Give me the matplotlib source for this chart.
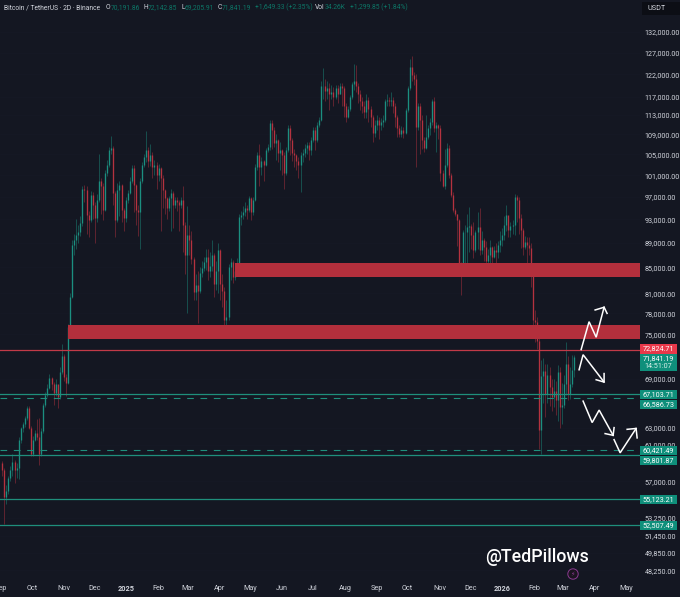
#!/usr/bin/env python3
import matplotlib
matplotlib.use("Agg")
import matplotlib.pyplot as plt
import matplotlib.dates as mdates
from matplotlib.patches import Rectangle, Circle
from matplotlib.ticker import NullLocator, FuncFormatter
import numpy as np
import pandas as pd

plt.rcParams['font.family'] = ['Roboto', 'DejaVu Sans']

BG = "#141722"
GREEN = "#1b8f80"
RED = "#b5323f"
LINE_GREEN = "#1f8f7c"
LINE_RED = "#c23a48"
ZONE_RED = "#b32f3c"
TEXT = "#d1d4dc"

# 2D candles in thousands of USDT
closes = [
    58.2,55.3,56,57.3,58.2,59.1,58.2,58.4,61.6,62.9,
    63.4,64.1,65.4,63,60,61.6,62.4,61.9,60,62.6,
    65.7,67,67.9,69.1,68.4,67.2,68.3,66.7,69.9,72,
    69.2,68.5,76,80.5,88.7,89.5,90.3,90.8,92.3,98.5,
    98.2,93.7,92.8,97.4,95.5,93.2,96.5,99.9,99,94.6,
    101.4,103,105.8,106.2,97.7,92.8,98.2,99.1,94.6,93.2,
    96.5,97.7,100,102.4,99.1,94.6,94.2,100,103,104.4,
    105.8,103.8,104.8,102.5,102.9,101,102.4,100.5,98.2,96.8,
    95,96.8,97.7,95.5,96.4,96,95.5,96.4,92,87,
    90.3,89.5,86.4,81.2,82.2,81.4,84.1,84.9,85.8,86.6,
    84.5,85.3,87,82.4,84.5,87.8,82.4,81.4,77,77.5,
    85,85.8,83.5,84.5,85.7,93.4,93.7,94.2,95,94.6,
    96.8,94.2,96.5,102.5,104.8,102.5,103.8,102.9,105.8,106.4,
    111.3,110,107.2,107.9,105.2,105.8,104.8,101.4,105.8,110.4,
    107.9,105.2,104.8,103.8,102.9,104.8,105.2,106.2,106.8,105.8,
    107.9,110,107.9,111,112,119.3,119.3,118.2,118.8,117.6,
    118,117,118.8,117.6,119.3,118.8,115,112.6,114.2,116.8,
    119.7,120.5,119.3,117.6,116,115,113.7,116.3,114.2,112.6,
    109.3,111,112,111,111.6,112,116,116.3,116,116.3,
    115,112.6,110.4,109,110,109.3,114,118.8,123.6,121.9,
    120.9,110.5,115,112,107.9,106.2,108.4,110.4,111.6,116,
    110.4,111,110.4,101.4,98.9,103,106.2,101,97.4,94.6,
    94,92.8,85.7,84.5,90.8,90.8,91.6,91.9,90.3,87.8,
    90.8,91.6,87.8,89.5,88.3,86.1,87,88.3,86.6,87.8,
    87.5,88.7,89.5,90.3,92,93.7,91.2,91.8,92,97,
    96.4,93.2,91.2,88.3,89.2,88.7,88.1,84.4,77,76.7,
    74.1,62.7,69.4,70,67.1,69.5,68,66.7,67.5,66.4,
    69.9,65.5,65.7,68.4,70.9,67.1,68.3,70.2,71.84,
]
highs = [
    59.2,58.4,56.6,57.6,58.6,60,59.3,59,61.9,63.1,
    63.7,64.4,65.6,65.6,63.2,62,62.7,64,64.1,62.9,
    66,67.3,68.4,69.6,69.3,68.6,69,68.2,70.5,73.6,
    72.3,69.6,76.4,81,89.5,90.5,93,92,93.5,99,
    99.2,99,94.5,98,97.8,96,97.5,105,100.5,99.5,
    102,104,106.5,108.6,106.7,98,99.5,100,99.3,95,
    97,98.2,100.6,103,103,99.4,95.5,100.5,103.5,105,
    109.6,106.5,107,105.5,104,103.5,103.2,102.6,101,98.5,
    97,97.2,98.5,98,97,97,96.5,97,99,92.5,
    95.4,92,91,86.6,84,84.5,85,86,86.7,88,
    88,87.5,89.5,87.4,86,89,88,84,82,80,
    85.5,86.5,86.2,85.5,86.5,94,94.5,95.3,96,95.6,
    97.2,97,97,103.2,105.5,107,104.5,104,106.3,107,
    112,112,110.5,109,108,107.5,106,105.5,106.5,111,
    111,108.2,106,105,104.5,105.5,106,107,107.4,107.5,
    108.4,110.6,110.5,111.6,112.6,120.5,123.3,120.8,120.5,120,
    119.5,119,119.5,119.5,120,120,119.3,115.5,115,117.3,
    120.2,124.3,124,120,118.5,117,116,117.5,116.8,115,
    113,112,113,112.6,112.5,113,116.5,117.5,117,118,
    117,115.5,113,111,110.8,110.5,114.5,119.4,125.5,126.2,
    122.5,122,115.5,115.5,113,108.5,113,111,112.5,116.5,
    117,111.6,111.2,111,102,106,107.3,106.8,101.5,97.8,
    95,94,93,85.8,91.2,92,94,95.2,92.2,92.5,
    91.2,94.2,95,91,89.8,89.3,88,89.5,88.5,88.5,
    89,89.3,91,91.5,93.5,95.5,93.5,92.5,92.8,97.5,
    97.3,97,94,91.5,90.2,90,90,89,85,78.5,
    77.5,74.5,71.5,71.8,71,71,70.5,69,69,68.8,
    70.8,70.5,68.5,69.5,74,72,70.5,72.1,72.14,
]
lows = [
    57.6,52.6,54.6,55.6,57,57.6,56.8,57.3,57.2,61.2,
    62.5,63.1,63.9,62.8,59.7,59.7,61.4,61.6,58.8,59.8,
    62.4,65.5,66.7,67.7,67.6,65.7,66.8,65.4,66.5,69.7,
    68.8,66.8,68.3,75.8,80.3,87,88,89,90.2,91.8,
    96,90.5,90,92.5,93,89,92.5,96,94,92.8,
    94.4,100.8,102.5,105,95.5,90,92.5,93.5,92.5,91,
    92.5,95.8,97.5,99.5,94.3,92,90.2,88,99.5,102.5,
    103.5,102.5,102.8,100.5,101,98.5,100,91,95,94,
    93,94.5,91,91.5,95,94.5,91,95,87.5,84,
    78,87,85.5,80,80,76.6,81,83.5,84.5,84.6,
    83,83.5,84.5,80.5,81.5,81,80,79,75.2,74.6,
    77,83,82.5,83,84.5,85.5,92,93,93.5,93,
    94.2,92.8,93.8,96.2,102,99,101,100,102.8,105.5,
    105.8,106,106.5,104,103.5,102,101,98.5,101,105.5,
    104.8,103.8,102.5,102,100.5,97.8,103.5,104.5,105,104,
    104.8,107.5,105.8,107.5,110.5,111.8,116.5,116,116.5,114,
    116.5,115,116.5,115.5,117.5,115,112.6,111.5,112.3,113.8,
    116.5,118.5,118,115.5,114,113.5,112.3,112.5,111.5,110.5,
    107.5,108.5,110,108,110,110.5,111.5,115,115,115,
    113.5,110.5,108.5,108.5,108.5,108.3,109,113.6,118.5,120.5,
    119.5,102.5,110,105,106,105.5,106,108,108.8,111,
    109.5,105.5,108,100,98.7,98.5,102.5,100.5,97,94.2,
    93.5,88.5,85,80.7,84,84,84,87.5,88,86.5,
    87.5,88,87,87.2,86,84,85.5,85.5,85.5,86.5,
    85.5,86.5,87.5,88.5,89.5,91,90,90,90.5,90.3,
    92.5,90.5,88.2,87,88,85.5,87,82,76,74,
    73,60.5,60,66,64.3,66,65.6,65,65.5,64.5,
    63.8,63,63.4,65.3,67,66.3,66.5,68,69.2,
]

first_candle = "2024-09-02"

y_ticks = [132000, 127000, 122000, 117000, 113000, 109000, 105000, 101000, 97000, 93000,
           89000, 85000, 81000, 78000, 75000, 69000, 63000, 61000, 57000, 53250, 51450,
           49850, 48250]
x_tick_dates = ["2024-09-01", "2024-10-01", "2024-11-01", "2024-12-01", "2025-01-01", "2025-02-01",
                "2025-03-01", "2025-04-01", "2025-05-01", "2025-06-01", "2025-07-01", "2025-08-01",
                "2025-09-01", "2025-10-01", "2025-11-01", "2025-12-01", "2026-01-01", "2026-02-01",
                "2026-03-01", "2026-04-01", "2026-05-01"]
x_tick_labels = ["Sep", "Oct", "Nov", "Dec", "2025", "Feb", "Mar", "Apr", "May", "Jun", "Jul", "Aug",
                 "Sep", "Oct", "Nov", "Dec", "2026", "Feb", "Mar", "Apr", "May"]

# horizontal levels
green_levels = [67103.71, 59801.87, 55123.21, 52507.49]
dashed_levels = [66586.73, 60421.49]
red_level = 72824.71
# supply zones: start date, low, high
zone_starts = ["2024-11-05", "2025-04-16"]
zone_lows = [74370, 83500]
zone_highs = [76350, 85660]

# hand drawn arrows on the chart, days after 2026-02-01 and price in thousands
arrow_days = [
    [45.7, 53.4, 60.3, 68.0],
    [43.7, 47.6, 68.0],
    [47.6, 56.4, 63.2, 76.8],
    [77.7, 83.6, 99.1],
]
arrow_prices = [
    [72.9, 76.8, 74.6, 78.9],
    [70.2, 72.2, 68.6],
    [66.2, 63.6, 65.1, 62.1],
    [61.6, 60.1, 62.9],
]
head_days = [[59.3, 68.0, 70.9], [68.0, 68.0, 60.3], [77.7, 76.8, 69.0], [90.4, 99.1, 100.1]]
head_prices = [[78.5, 78.9, 78.0], [69.7, 68.6, 68.9], [63.0, 62.1, 62.3], [62.8, 62.9, 61.8]]

# axis price tags: text, colour, top and bottom pixel
tag_texts = ["72,824.71", "71,841.19", "67,103.71", "66,586.73", "60,421.49", "59,801.87", "55,123.21", "52,507.49"]
tag_colors = ["#e8384a", "#0f8f7b", "#0f8f7b", "#0f8f7b", "#0f8f7b", "#0f8f7b", "#0f8f7b", "#0f8f7b"]
tag_tops = [344, 354, 390, 399.5, 446, 455.5, 495, 521]
tag_bottoms = [353.5, 371, 399, 409, 455, 465, 504, 530]

dates = pd.date_range(first_candle, periods=len(closes), freq="2D")
x = mdates.date2num(dates)
c = np.array(closes) * 1000
h = np.array(highs) * 1000
l = np.array(lows) * 1000
o = np.concatenate([[59000], c[:-1]])
colors = [GREEN if cc >= oo else RED for oo, cc in zip(o, c)]

fig = plt.figure(figsize=(6.8, 5.97), dpi=100, facecolor=BG)
ax = fig.add_axes([0, 0, 640 / 680, 1])
ax.set_facecolor(BG)
ax.set_yscale("log")

oct1 = mdates.date2num(pd.Timestamp("2024-10-01"))
ax.set_xlim(oct1 - 31.1, oct1 + 590.9)
ax.set_ylim(45900, 140140)

ax.vlines(x, l, h, colors=colors, linewidth=0.5, alpha=0.65, zorder=2)
ax.vlines(x, o, c, colors=colors, linewidth=0.95, zorder=3)

for start, low, high in zip(zone_starts, zone_lows, zone_highs):
    x0 = mdates.date2num(pd.Timestamp(start))
    ax.fill_between([x0, oct1 + 590.9], low, high, color=ZONE_RED, linewidth=0, zorder=4)

for level in green_levels:
    ax.axhline(level, color=LINE_GREEN, linewidth=0.9, zorder=5)
for level in dashed_levels:
    ax.axhline(level, color=LINE_GREEN, linewidth=0.8, dashes=(6, 6), zorder=5)
ax.axhline(red_level, color=LINE_RED, linewidth=0.9, zorder=5)

feb1 = mdates.date2num(pd.Timestamp("2026-02-01"))
for d, p in zip(arrow_days + head_days, arrow_prices + head_prices):
    ax.plot(feb1 + np.array(d), np.array(p) * 1000, color="white", linewidth=1.1, zorder=6,
            solid_joinstyle="miter")

ax.yaxis.tick_right()
ax.set_yticks(y_ticks)
ax.yaxis.set_minor_locator(NullLocator())
ax.yaxis.set_major_formatter(FuncFormatter(lambda v, _: f"{v:,.2f}"))
ax.set_xticks(mdates.date2num(pd.to_datetime(x_tick_dates)))
ax.set_xticklabels(x_tick_labels)
ax.tick_params(axis="y", length=0, pad=3.5, labelsize=5.2, labelcolor=TEXT)
ax.tick_params(axis="x", length=0, pad=-8.5, labelsize=5.2, labelcolor=TEXT)
for lab in ax.get_xticklabels():
    if lab.get_text() in ("2025", "2026"):
        lab.set_fontweight("bold")
ax.grid(axis="y", color="#171a26", linewidth=0.4, zorder=0)
for spine in ax.spines.values():
    spine.set_visible(False)

# pixel overlay for header, price tags and watermark
over = fig.add_axes([0, 0, 1, 1])
over.set_xlim(0, 680)
over.set_ylim(597, 0)
over.axis("off")

over.add_patch(Rectangle((642, 2), 40, 13, color="#0c0e15", linewidth=0))
over.text(647, 8.5, "USDT", color=TEXT, fontsize=5.2, va="center")

for txt, col, top, bottom in zip(tag_texts, tag_colors, tag_tops, tag_bottoms):
    over.add_patch(Rectangle((640, top), 37, bottom - top, color=col, linewidth=0))
    over.text(658.5, top + 4.7, txt, color="white", fontsize=5.2, ha="center", va="center")
over.text(658.5, 366, "14:51:07", color="#d8f0ea", fontsize=5.2, ha="center", va="center")

GREY_GREEN = "#0d7566"
header = [
    (4, "Bitcoin / TetherUS · 2D · Binance", TEXT),
    (106, "O", TEXT), (110.5, "70,191.86", GREY_GREEN),
    (144, "H", TEXT), (148, "72,142.85", GREY_GREEN),
    (181.5, "L", TEXT), (185, "69,205.91", GREY_GREEN),
    (218, "C", TEXT), (222, "71,841.19", GREY_GREEN),
    (255, "+1,649.33 (+2.35%)", GREY_GREEN),
    (315, "Vol", TEXT), (325, "34.26K", GREY_GREEN),
    (350, "+1,299.85 (+1.84%)", GREY_GREEN),
]
for hx, txt, col in header:
    over.text(hx, 7.5, txt, color=col, fontsize=4.85, va="center")

over.text(485.5, 557, "@TedPillows", color="white", fontsize=12.8, fontweight="medium", va="center")
over.add_patch(Circle((573, 574), 5.2, facecolor="#1b1420", edgecolor="#8a3a90", linewidth=0.7))
over.text(573, 574, "\u26a1", color="#8a3a90", fontsize=4.5, ha="center", va="center", family="DejaVu Sans")

fig.savefig("out.png", dpi=100, facecolor=BG)
